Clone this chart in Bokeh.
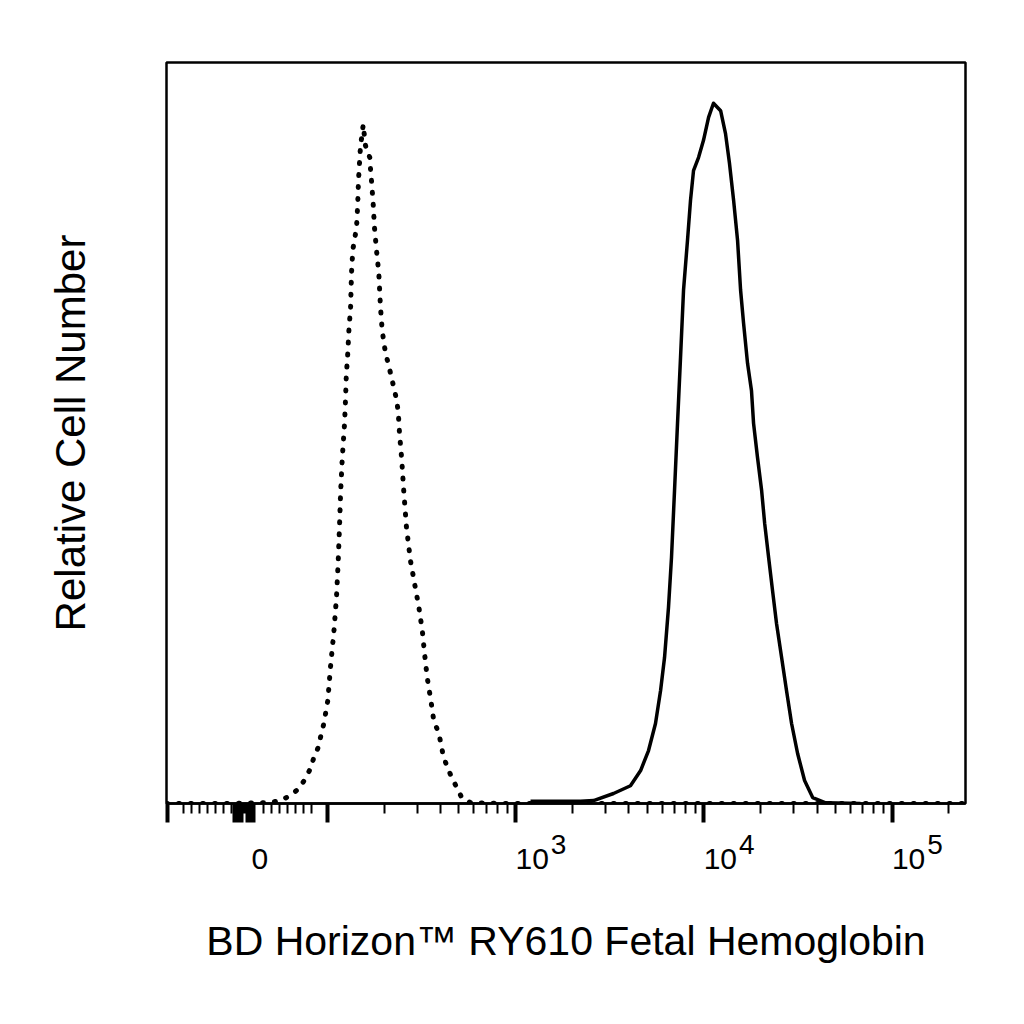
import math
from bokeh.plotting import figure
from bokeh.models import FixedTicker, LinearAxis, Range1d, CustomJSTickFormatter
from bokeh.embed import file_html
from bokeh.resources import INLINE

# x positions are in display decades (log above 10^2, linear around zero)
# isotype control (dotted)
iso_x = [1.145, 1.485, 1.698, 1.751, 1.804, 1.848, 1.880, 1.910, 1.928, 1.951,
         1.963, 1.981, 2.002, 2.016, 2.034, 2.048, 2.057, 2.064, 2.070, 2.079,
         2.091, 2.096, 2.100, 2.108, 2.114, 2.123, 2.128, 2.135, 2.146, 2.155,
         2.161, 2.165, 2.172, 2.176, 2.185, 2.190,
         2.202, 2.225, 2.229, 2.234, 2.243, 2.250, 2.261, 2.273, 2.282, 2.291,
         2.300, 2.309, 2.326, 2.339, 2.353, 2.367, 2.376, 2.383, 2.394, 2.406,
         2.420, 2.441, 2.463, 2.486, 2.504, 2.516, 2.530, 2.548, 2.565, 2.592,
         2.605, 2.615, 2.637, 2.663, 2.690, 2.716, 2.760, 2.920, 5.390]
iso_y = [0.0, 0.0, 0.13, 0.4, 1.08, 2.02, 3.24, 4.72, 6.21, 7.56,
         8.91, 10.8, 13.9, 18.35, 23.08, 27.8, 32.52, 37.25, 41.97, 46.69,
         51.27, 54.38, 57.62, 60.72, 63.83, 66.93, 71.65, 74.76, 76.38, 77.86,
         80.97, 84.07, 87.18, 88.8, 90.42, 91.63,
         88.8, 87.18, 85.56, 84.07, 80.97, 77.73, 74.62, 71.52, 66.93, 63.83,
         62.21, 60.72, 59.1, 57.62, 56.13, 54.52, 52.9, 49.93, 46.69, 41.97,
         37.25, 32.79, 29.69, 26.45, 23.35, 20.24, 17.0, 14.17, 11.2, 9.45,
         7.83, 6.48, 4.86, 3.37, 2.02, 0.67, 0.13, 0.0, 0.0]

# Fetal Hemoglobin stained cells (solid)
hbf_x = [3.079, 3.345, 3.414, 3.520, 3.610, 3.664, 3.706, 3.743, 3.770, 3.791,
         3.812, 3.828, 3.844, 3.860, 3.876, 3.892, 3.913, 3.929, 3.945, 3.972,
         3.998, 4.025, 4.051, 4.089, 4.115, 4.136, 4.158, 4.179, 4.195, 4.211,
         4.232, 4.253, 4.264, 4.285, 4.307, 4.323, 4.344, 4.365, 4.386, 4.413,
         4.439, 4.466, 4.498, 4.535, 4.578, 4.647, 4.832]
hbf_y = [0.3, 0.3, 0.4, 1.35, 2.4, 4.45, 7.15, 10.8, 15.25, 19.7,
         26.45, 33.2, 42.2, 51.3, 60.2, 69.3, 76.0, 81.4, 85.4, 87.2,
         89.5, 92.6, 94.5, 93.5, 90.4, 86.4, 81.4, 76.0, 69.3, 64.8,
         59.4, 55.7, 51.3, 46.7, 42.2, 37.8, 33.2, 28.7, 24.3, 19.7,
         15.25, 10.8, 6.75, 3.1, 0.8, 0.1, 0.0]

# axis ticks, in fluorescence units
major_values = [-100, -16, -12, -8, 0, 4, 8, 100, 1000, 10000, 100000]
minor_values = ([-80, -70, -60, -50, -40, -30, -20, -6, -4, -2,
                 20, 30, 40, 50, 60, 70, 80]
                + [m * 100 for m in range(2, 10)]
                + [m * 1000 for m in range(2, 10)]
                + [m * 10000 for m in range(2, 10)]
                + [200000])
label_values = [0, 1000, 10000, 100000]
label_base = ["0", "10", "10", "10"]
sup_values = [1000, 10000, 100000]
label_sup = ["3", "4", "5"]

ZERO_POS = 1.575
X0, X1 = 1.145, 5.39
FRAME_W = 799
PX = (X1 - X0) / FRAME_W  # decades per pixel


def display_pos(v):
    if v >= 100:
        return math.log10(v)
    if v <= -100:
        return 2 * ZERO_POS - math.log10(-v)
    return ZERO_POS + v / 100 * (2 - ZERO_POS)


FONT = "Liberation Sans"

p = figure(width=1000, height=1000, output_backend="svg", toolbar_location=None,
           x_range=Range1d(X0, X1), y_range=Range1d(0, 100),
           min_border_left=166, min_border_right=1000 - 166 - FRAME_W,
           min_border_top=62, min_border_bottom=1000 - 803)
p.xgrid.visible = False
p.ygrid.visible = False
p.background_fill_color = "white"
p.border_fill_color = "white"
p.outline_line_color = "black"
p.outline_line_width = 2.5

p.line(iso_x, iso_y, line_color="black", line_width=5, line_dash="1 11",
       line_cap="round")
p.line(hbf_x, hbf_y, line_color="black", line_width=3.5, line_join="round")

# tick axis
xa = p.xaxis[0]
xa.ticker = FixedTicker(ticks=[display_pos(v) for v in major_values],
                        minor_ticks=[display_pos(v) for v in minor_values])
xa.axis_line_color = "black"
xa.axis_line_width = 2.5
xa.major_tick_in = 0
xa.major_tick_out = 19
xa.major_tick_line_width = 4
xa.minor_tick_in = 0
xa.minor_tick_out = 10
xa.minor_tick_line_width = 2
xa.major_label_text_color = None
xa.major_label_text_font_size = "1px"
xa.major_label_standoff = 0


def label_axis(ticks, labels, size, standoff):
    ax = LinearAxis(ticker=FixedTicker(ticks=ticks, minor_ticks=[]),
                    formatter=CustomJSTickFormatter(args=dict(labels=labels),
                                                    code="return labels[index];"))
    ax.axis_line_color = None
    ax.major_tick_line_color = None
    ax.minor_tick_line_color = None
    ax.major_tick_in = 0
    ax.major_tick_out = 0
    ax.minor_tick_in = 0
    ax.minor_tick_out = 0
    ax.major_label_text_font = FONT
    ax.major_label_text_font_size = size
    ax.major_label_text_color = "black"
    ax.major_label_standoff = standoff
    return ax


# superscript exponents, then mantissas "10" and "0"
sup_axis = label_axis([display_pos(v) + 43 * PX for v in sup_values],
                      label_sup, "28px", 12)
base_pos = [display_pos(v) + (12.5 if v == 0 else 16.5) * PX for v in label_values]
base_axis = label_axis(base_pos, label_base, "30px", -8)
base_axis.axis_label = "BD Horizon™ RY610 Fetal Hemoglobin"
base_axis.axis_label_text_font = FONT
base_axis.axis_label_text_font_size = "41px"
base_axis.axis_label_text_font_style = "normal"
base_axis.axis_label_text_color = "black"
base_axis.axis_label_standoff = 46
p.add_layout(sup_axis, "below")
p.add_layout(base_axis, "below")

ya = p.yaxis[0]
ya.axis_line_color = None
ya.major_tick_line_color = None
ya.minor_tick_line_color = None
ya.major_tick_out = 0
ya.minor_tick_out = 0
ya.major_label_text_color = None
ya.major_label_text_font_size = "1px"
ya.axis_label = "Relative Cell Number"
ya.axis_label_text_font = FONT
ya.axis_label_text_font_size = "42px"
ya.axis_label_text_font_style = "normal"
ya.axis_label_text_color = "black"
ya.axis_label_standoff = 73

open("out.html", "w").write(file_html(p, INLINE))
